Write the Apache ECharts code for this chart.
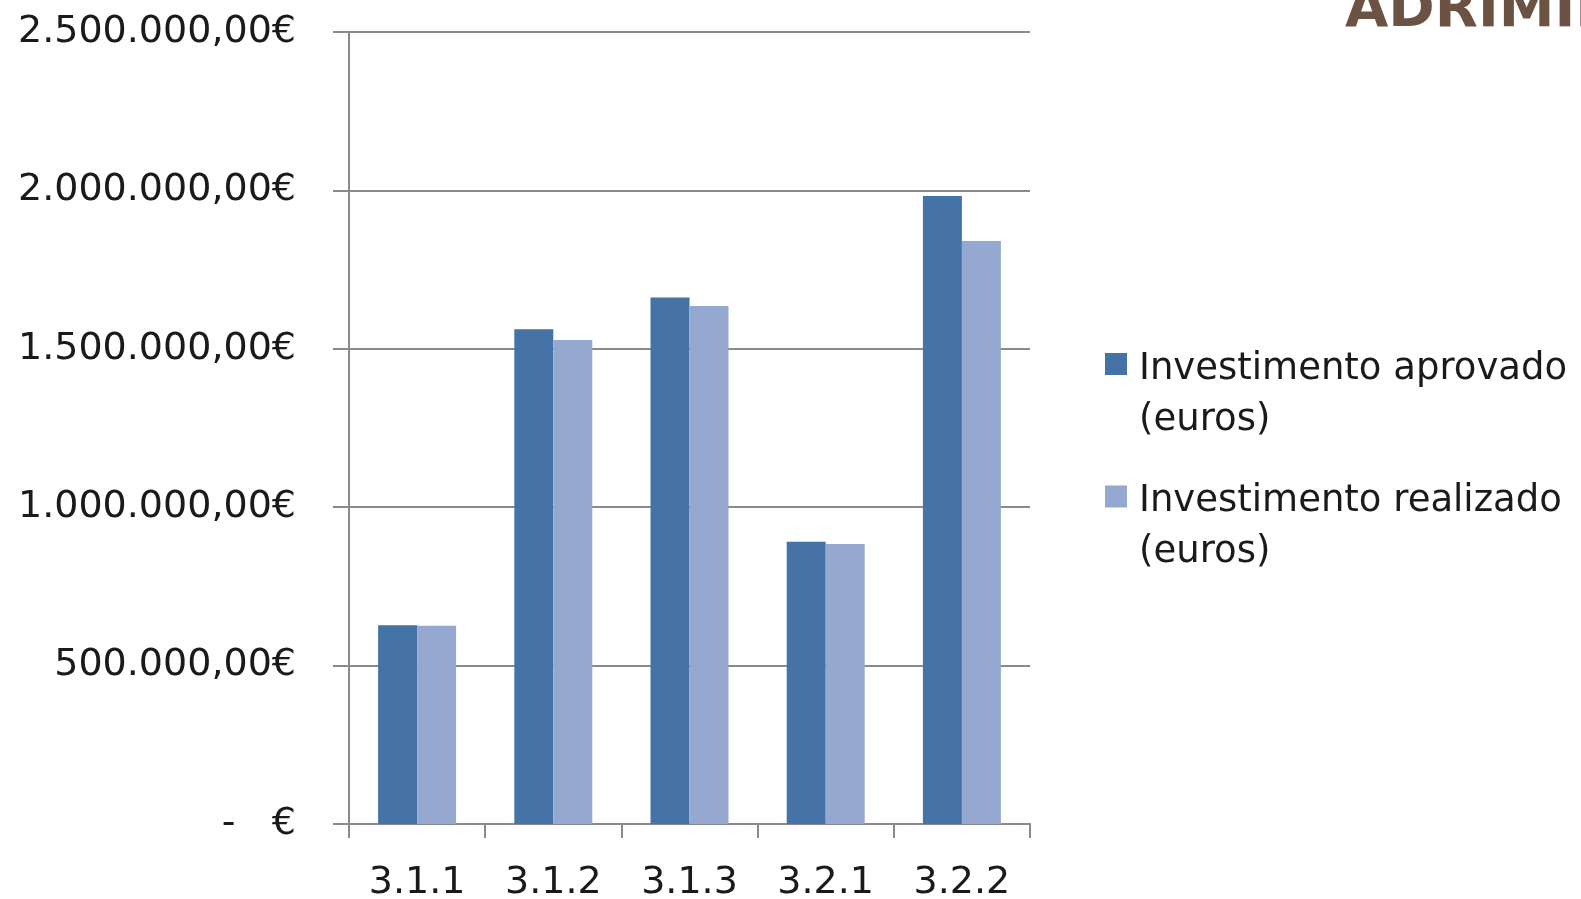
<!DOCTYPE html>
<html>
<head>
<meta charset="utf-8">
<script src="https://cdn.jsdelivr.net/npm/echarts@6/dist/echarts.min.js"></script>
<style>
html,body{margin:0;padding:0;background:#fff;}
#c{width:1581px;height:899px;}
</style>
</head>
<body>
<div id="c"></div>
<script>
const categories = ['3.1.1', '3.1.2', '3.1.3', '3.2.1', '3.2.2'];
const aprovado = [627000, 1562000, 1662000, 891000, 1982000];
const realizado = [626000, 1528000, 1635000, 884000, 1840000];
const seriesNames = ['Investimento aprovado\n(euros)', 'Investimento realizado\n(euros)'];
const yTicks = { min: 0, max: 2500000, interval: 500000 };
const headerText = 'ADRIMINHO';

function fmtEuro(v) {
  if (v === 0) return '-   €';
  const s = Math.round(v).toString().replace(/\B(?=(\d{3})+(?!\d))/g, '.');
  return s + ',00€';
}

const FONT = 'DejaVu Sans';
const chart = echarts.init(document.getElementById('c'), null, { renderer: 'canvas' });
chart.setOption({
  animation: false,
  backgroundColor: '#ffffff',
  textStyle: { fontFamily: FONT },
  grid: { left: 349, right: 551, top: 32, bottom: 75, containLabel: false, outerBoundsMode: 'none' },
  graphic: [{
    type: 'text',
    left: 1345,
    top: -17,
    style: { text: headerText, font: 'bold 56px "DejaVu Sans"', fill: '#6b5242' }
  }],
  legend: {
    orient: 'vertical',
    left: 1105,
    top: 308,
    padding: 0,
    itemWidth: 22,
    itemHeight: 22,
    itemGap: 2,
    icon: 'rect',
    formatter: function (name) {
      return '{g| }\n' + name.split('\n').map(function (l) { return '{t|' + l + '}'; }).join('\n');
    },
    textStyle: {
      fontFamily: FONT, fontSize: 37, color: '#1a1a1a',
      rich: {
        g: { fontSize: 10, lineHeight: 61 },
        t: { fontFamily: FONT, fontSize: 37, color: '#1a1a1a', lineHeight: 51, padding: [0, 0, 0, 7] }
      }
    },
    data: seriesNames
  },
  xAxis: {
    type: 'category',
    data: categories,
    boundaryGap: true,
    axisLine: { show: true, lineStyle: { color: '#8a8a8a', width: 2 } },
    axisTick: { show: true, length: 14, lineStyle: { color: '#8a8a8a', width: 2 } },
    axisLabel: { fontFamily: FONT, fontSize: 38, color: '#1a1a1a', margin: 40 }
  },
  yAxis: {
    type: 'value',
    min: yTicks.min, max: yTicks.max, interval: yTicks.interval,
    axisLine: { show: true, lineStyle: { color: '#8a8a8a', width: 2 } },
    axisTick: { show: true, length: 16, lineStyle: { color: '#8a8a8a', width: 2 } },
    splitLine: { show: true, lineStyle: { color: '#8a8a8a', width: 2 } },
    axisLabel: { fontFamily: FONT, fontSize: 38, color: '#1a1a1a', margin: 53, formatter: fmtEuro }
  },
  series: [
    { name: seriesNames[0], type: 'bar', data: aprovado, barWidth: 39, barGap: '0%',
      itemStyle: { color: '#4572a7' } },
    { name: seriesNames[1], type: 'bar', data: realizado, barWidth: 39, barGap: '0%',
      itemStyle: { color: '#95a9d0' } }
  ]
});
</script>
</body>
</html>
